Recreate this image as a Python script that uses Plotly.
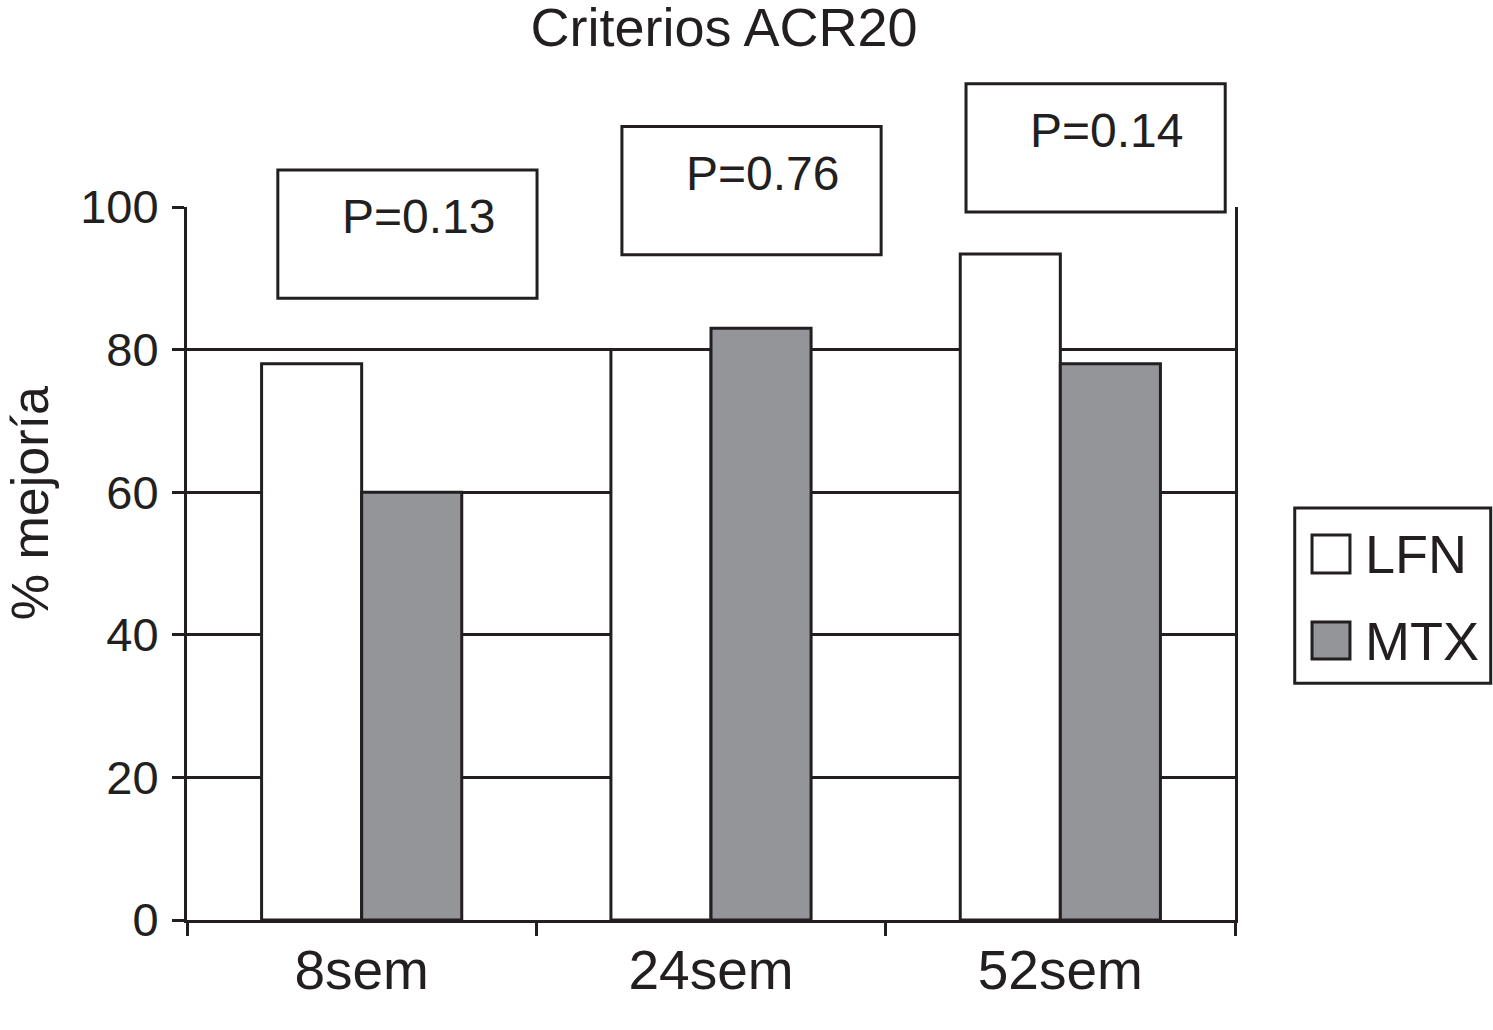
import plotly.graph_objects as go

categories = ["8sem", "24sem", "52sem"]
lfn_values = [78, 80, 93.4]
mtx_values = [60, 83, 78]
p_labels = ["P=0.13", "P=0.76", "P=0.14"]
y_ticks = [0, 20, 40, 60, 80, 100]

INK = "#231f20"
GRAY = "#939598"
FONT = "Liberation Sans, Arial, Helvetica, sans-serif"

fig = go.Figure()
fig.add_trace(go.Bar(name="LFN", x=categories, y=lfn_values,
                     marker=dict(color="white", line=dict(color=INK, width=3)),
                     showlegend=False))
fig.add_trace(go.Bar(name="MTX", x=categories, y=mtx_values,
                     marker=dict(color=GRAY, line=dict(color=INK, width=3)),
                     showlegend=False))

n = len(categories)
def xp(c):  # category coordinate -> paper
    return (c + 0.5) / n
def yp(v):  # data -> paper
    return v / 100.0

shapes = []
annotations = []
# P-value boxes (offsets relative to category centre, in category units / data units)
box_left = [-0.24, -0.255, -0.27]
box_bottom = [87.2, 93.3, 99.3]
box_w = 0.742
box_h = 18.0
for i, lab in enumerate(p_labels):
    x0 = xp(i + box_left[i]); x1 = xp(i + box_left[i] + box_w)
    y0 = yp(box_bottom[i]); y1 = yp(box_bottom[i] + box_h)
    shapes.append(dict(type="rect", xref="paper", yref="paper", x0=x0, x1=x1, y0=y0, y1=y1,
                       fillcolor="white", line=dict(color=INK, width=3), layer="above"))
    annotations.append(dict(text=lab, xref="paper", yref="paper",
                            x=xp(i + box_left[i] + 0.402), y=yp(box_bottom[i] + box_h - 6.6),
                            xanchor="center", yanchor="middle", showarrow=False,
                            font=dict(size=48, color=INK, family=FONT)))

# manual legend
shapes.append(dict(type="rect", xref="paper", yref="paper", x0=1.057, x1=1.244, y0=0.332, y1=0.578,
                   fillcolor="white", line=dict(color=INK, width=3), layer="above"))
legend_items = [("LFN", "white", 0.4867, 0.54), ("MTX", GRAY, 0.366, 0.418)]
for name, col, y0, y1 in legend_items:
    shapes.append(dict(type="rect", xref="paper", yref="paper", x0=1.0735, x1=1.1097, y0=y0, y1=y1,
                       fillcolor=col, line=dict(color=INK, width=3), layer="above"))
    annotations.append(dict(text=name, xref="paper", yref="paper", x=1.122, y=(y0 + y1) / 2,
                            xanchor="left", yanchor="middle", showarrow=False,
                            font=dict(size=54, color=INK, family=FONT)))

# y-axis title (placed as annotation to match the original's offset position)
annotations.append(dict(text="% mejoría", xref="paper", yref="paper", x=-0.1495, y=0.585,
                        xanchor="center", yanchor="middle", textangle=-90, showarrow=False,
                        font=dict(size=52, color=INK, family=FONT)))

fig.update_layout(
    width=1493, height=1030,
    margin=dict(l=187, r=258, t=207, b=110),
    paper_bgcolor="white", plot_bgcolor="white",
    barmode="group", bargap=0.427, bargroupgap=0,
    font=dict(family=FONT, color=INK, size=52),
    title=dict(text="Criterios ACR20", x=0.485, xanchor="center", xref="container",
               y=0.992, yanchor="top", yref="container",
               font=dict(size=54, color=INK, family=FONT)),
    shapes=shapes, annotations=annotations,
    xaxis=dict(showline=True, linecolor=INK, linewidth=3, ticks="outside", tickson="boundaries",
               ticklen=13, tickwidth=3, tickcolor=INK, showgrid=False,
               tickfont=dict(size=55, color=INK, family=FONT)),
    yaxis=dict(range=[0, 100], tickvals=y_ticks, showline=True, mirror=True, linecolor=INK,
               linewidth=3, ticks="outside", ticklen=12, tickwidth=3, tickcolor=INK,
               showgrid=True, gridcolor=INK, gridwidth=3, zeroline=False,
               ticklabelstandoff=4,
               tickfont=dict(size=47, color=INK, family=FONT)),
)

fig.write_html("out.html", config={"displayModeBar": False},
               post_script="document.body.style.margin='0';document.body.style.padding='0';")
